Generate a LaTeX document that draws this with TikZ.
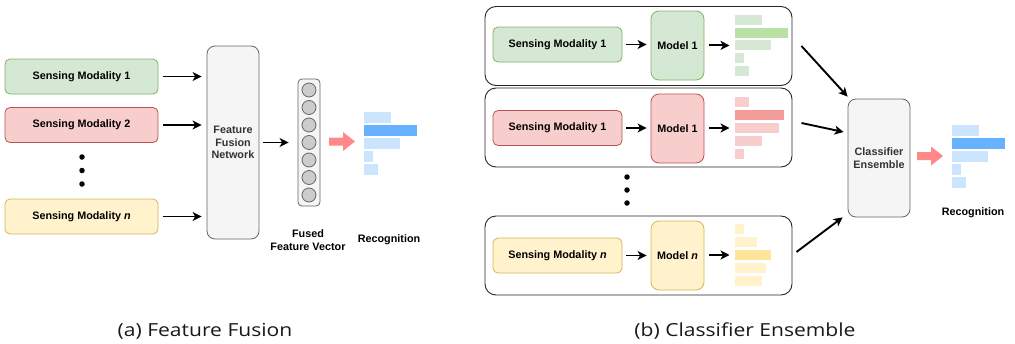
\documentclass[tikz,border=0pt]{standalone}
\usepackage{fontspec}
\setmainfont{Open Sans}[FakeStretch=1.17]
\newfontfamily\diafont{Liberation Sans}
\usetikzlibrary{arrows.meta}
\definecolor{gfill}{HTML}{D5E8D4}
\definecolor{gline}{HTML}{82B366}
\definecolor{rfill}{HTML}{F8CECC}
\definecolor{rline}{HTML}{B85450}
\definecolor{yfill}{HTML}{FFF2CC}
\definecolor{yline}{HTML}{D6B656}
\definecolor{nfill}{HTML}{F5F5F5}
\definecolor{nline}{HTML}{666666}
\definecolor{ntext}{HTML}{333333}
\definecolor{gbar}{HTML}{B9E0A5}
\definecolor{rbar}{HTML}{F19C99}
\definecolor{ybar}{HTML}{FFE599}
\definecolor{bpale}{HTML}{CCE5FF}
\definecolor{bdark}{HTML}{66B2FF}
\definecolor{parrow}{HTML}{FF8888}
\definecolor{unitfill}{HTML}{CCCCCC}
\newcommand{\boxfont}{\diafont\bfseries\fontsize{10.8}{12.8}\selectfont}

\begin{document}
\begin{tikzpicture}[x=1pt,y=-1pt]
\tikzstyle{modality}=[rectangle, rounded corners=5pt, draw, line width=0.8pt, minimum height=35pt, inner sep=0pt, font=\boxfont, text=black]
\tikzstyle{model}=[rectangle, rounded corners=8pt, draw, line width=0.8pt, minimum width=53pt, minimum height=69pt, inner sep=0pt, font=\boxfont, text=black]
\tikzstyle{network}=[rectangle, rounded corners=8pt, draw=nline, fill=nfill, line width=0.8pt, inner sep=0pt, align=center, font=\boxfont, text=ntext]
\tikzstyle{rowbox}=[rectangle, rounded corners=11pt, draw=black!85, line width=0.9pt, minimum width=307pt, minimum height=79pt, inner sep=0pt]
\tikzstyle{unit}=[circle, draw=nline, fill=unitfill, line width=0.8pt, minimum size=14pt, inner sep=0pt]
\tikzstyle{bar}=[rectangle, anchor=west, inner sep=0pt, minimum height=10pt]
\tikzstyle{dot}=[circle, fill=black, minimum size=5.5pt, inner sep=0pt]
\tikzstyle{label}=[font=\boxfont, text=black, align=center]
\tikzstyle{caption}=[font=\fontsize{18}{21}\selectfont, anchor=base, text=black!90]
\tikzstyle{arr}=[line width=1.9pt, -{Stealth[length=9pt, width=9pt, inset=2.5pt]}]
\tikzstyle{fat}=[fill=parrow]

\useasboundingbox (0,0) rectangle (1015,343);

% (a) feature fusion
\node[modality, minimum width=153pt, fill=gfill, draw=gline] (s1) at (81.5,76.5) {Sensing Modality 1};
\node[modality, minimum width=153pt, fill=rfill, draw=rline] (s2) at (81.5,125) {Sensing Modality 2};
\node[modality, minimum width=153pt, fill=yfill, draw=yline] (sn) at (81.5,216.5) {Sensing Modality \textit{n}};
\foreach \y [count=\i] in {157,170.5,184}
   \node[dot] (ld\i) at (82,\y) {};

\node[network, minimum width=52pt, minimum height=193pt] (ffn) at (233,142.5) {Feature\\Fusion\\Network};
\foreach \s in {s1,s2,sn}
   \draw[arr, shorten <=5pt, shorten >=5pt] (\s.east) -- (\s.east -| ffn.west);

\node[network, rounded corners=4pt, minimum width=22pt, minimum height=127pt] (fv) at (309,142.5) {};
\foreach \i in {1,...,7}
   \node[unit] (c\i) at (309,72.5+17.5*\i) {};
\draw[arr, shorten <=4pt, shorten >=9pt] (ffn) -- (fv);
\node[label] (fvl) at (308,240) {Fused\\Feature Vector};

\foreach \w/\c [count=\i] in {27/bpale,53/bdark,36/bpale,9/bpale,14/bpale}
   \node[bar, minimum height=11pt, minimum width=\w pt, fill=\c] (la\i) at (363.5,104.5+13*\i) {};
\node[label] (lrec) at (389,240) {Recognition};

% (b) classifier ensemble
\node[rowbox] (r1) at (638.5,46) {};
\node[rowbox] (r2) at (638.5,127.5) {};
\node[rowbox] (r3) at (638.5,255.5) {};

\node[modality, minimum width=129pt, fill=gfill, draw=gline] (m1) at (557.5,44.5) {Sensing Modality 1};
\node[modality, minimum width=129pt, fill=rfill, draw=rline] (m2) at (557.5,128) {Sensing Modality 1};
\node[modality, minimum width=129pt, fill=yfill, draw=yline] (mn) at (557.5,255.5) {Sensing Modality \textit{n}};
\node[model, fill=gfill, draw=gline] (k1) at (677.5,45.5) {Model 1};
\node[model, fill=rfill, draw=rline] (k2) at (677.5,128.5) {Model 1};
\node[model, fill=yfill, draw=yline] (kn) at (677.5,255.5) {Model \textit{n}};
\foreach \y [count=\i] in {177,190,203}
   \node[dot] (rd\i) at (627,\y) {};

\foreach \w/\c [count=\i] in {27/gfill,53/gbar,36/gfill,9/gfill,14/gfill}
   \node[bar, minimum width=\w pt, fill=\c] (g\i) at (734.5,45.4+12.8*\i-38.4) {};
\foreach \w/\c [count=\i] in {14/rfill,49/rbar,44/rfill,27/rfill,9/rfill}
   \node[bar, minimum width=\w pt, fill=\c] (h\i) at (734.5,128+12.8*\i-38.4) {};
\foreach \w/\c [count=\i] in {9/yfill,22/yfill,36/ybar,31/yfill,27/yfill}
   \node[bar, minimum width=\w pt, fill=\c] (j\i) at (734.5,255+12.8*\i-38.4) {};

\draw[arr, shorten <=4pt, shorten >=4pt] (m1.east) -- (m1.east -| k1.west);
\draw[arr, shorten <=4pt, shorten >=4pt] (m2.east) -- (m2.east -| k2.west);
\draw[arr, shorten <=4pt, shorten >=4pt] (mn.east) -- (mn.east -| kn.west);
\draw[arr, shorten <=5pt, shorten >=5pt] (k1.east |- g3) -- (g3.west);
\draw[arr, shorten <=5pt, shorten >=5pt] (k2.east |- h3) -- (h3.west);
\draw[arr, shorten <=5pt, shorten >=5pt] (kn.east |- j3) -- (j3.west);

\node[network, minimum width=62pt, minimum height=118pt] (ens) at (879,158) {Classifier\\Ensemble};
\draw[arr] ([xshift=9pt]r1.east) -- ([yshift=2pt]ens.north west);
\draw[arr] ([xshift=9pt,yshift=4.5pt]r2.east) -- ([xshift=-4pt,yshift=26pt]ens.west);
\draw[arr] ([xshift=4pt,yshift=3.5pt]r3.east) -- ([xshift=-5pt]ens.south west);

\foreach \w/\c [count=\i] in {27/bpale,53/bdark,36/bpale,9/bpale,14/bpale}
   \node[bar, minimum height=11pt, minimum width=\w pt, fill=\c] (ra\i) at (951.5,117.5+13*\i) {};
\node[label] (rrec) at (973,213) {Recognition};

% block arrows towards the recognition bars
\coordinate (ba1) at (329,141.5);
\coordinate (ba2) at (917,156);
\foreach \p in {ba1,ba2}
   \fill[fat] (\p) ++(0,-4) -- ++(14,0) -- ++(0,-5.5) -- ++(12,9.5) -- ++(-12,9.5) -- ++(0,-5.5) -- ++(-14,0) -- cycle;

\node[caption] (capa) at (205,336) {(a) Feature Fusion};
\node[caption] (capb) at (745,336) {(b) Classifier Ensemble};
\end{tikzpicture}
\end{document}
